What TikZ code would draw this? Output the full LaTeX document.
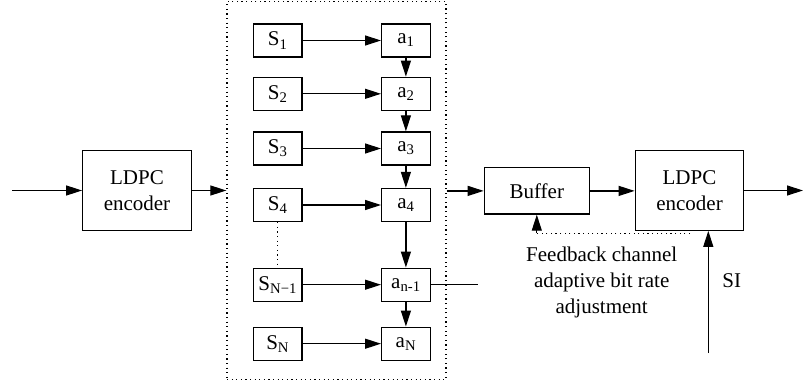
\documentclass[tikz,border=0pt]{standalone}
\usepackage{fontspec}
\setmainfont{Liberation Serif}
\newfontfamily\labelfont{Liberation Serif}
\usetikzlibrary{arrows.meta}
\begin{document}
\begin{tikzpicture}[x=1pt,y=-1pt,
  font=\labelfont\fontsize{21}{26}\selectfont,
  box/.style={draw, line width=1.3pt, inner sep=0pt, align=center},
  small/.style={box, minimum width=48.5pt, minimum height=33pt},
  big/.style={box, minimum width=108.5pt, minimum height=79.5pt},
  arr/.style={line width=1.2pt, -{Triangle[length=16pt,width=10pt]}},
  ln/.style={line width=1.2pt},
  dots/.style={line width=1.3pt, dash pattern=on 1.2pt off 3.4pt}]
\fill[white] (0,0) rectangle (803,385);
\useasboundingbox (0,0) rectangle (803,385);

% first encoder
\node[big] (enc1) at (137,190.5) {LDPC\\encoder};
\coordinate (in) at (12,190.5);

% dotted group of sources and accumulators
\node[draw, dots, minimum width=219pt, minimum height=378pt, inner sep=0pt] (grp) at (336.5,190.5) {};

\node[small] (s1)  at (277.7,40.5)  {S\textsubscript{1}};
\node[small] (s2)  at (277.7,93.8)  {S\textsubscript{2}};
\node[small] (s3)  at (277.7,148.5) {S\textsubscript{3}};
\node[small] (s4)  at (277.7,205)   {S\textsubscript{4}};
\node[small] (sn1) at (277.7,284.7) {S\textsubscript{N−1}};
\node[small] (sn)  at (277.7,343.7) {S\textsubscript{N}};

\node[small] (a1)  at (405.9,40.5)  {a\textsubscript{1}};
\node[small] (a2)  at (405.9,93.8)  {a\textsubscript{2}};
\node[small] (a3)  at (405.9,148.5) {a\textsubscript{3}};
\node[small] (a4)  at (405.9,205)   {a\textsubscript{4}};
\node[small] (an1) at (405.9,284.7) {a\textsubscript{n-1}};
\node[small] (an)  at (405.9,343.7) {a\textsubscript{N}};

% buffer and second encoder
\node[box, minimum width=105pt, minimum height=46.3pt] (buf) at (536.8,190.9) {Buffer};
\node[big] (enc2) at (689.5,190.5) {LDPC\\encoder};
\coordinate (out) at (803,190.5);

% main chain
\draw[arr] (in) -- (enc1.west);
\draw[arr] (enc1.east) -- (grp.west);
\draw[arr] (grp.east |- buf.west) -- (buf.west);
\draw[arr] (buf.east) -- (enc2.west |- buf.east);
\draw[arr] (enc2.east) -- (out);

% sources to accumulators
\foreach \s/\a in {s1/a1,s2/a2,s3/a3,s4/a4,sn1/an1,sn/an}
  \draw[arr] (\s.east) -- (\a.west);
\foreach \u/\v in {a1/a2,a2/a3,a3/a4,a4/an1,an1/an}
  \draw[arr] (\u.south) -- (\v.north);
\draw[dots] (s4.south) -- (sn1.north);
\coordinate (tap) at (478,284.7);
\draw[ln] (an1.east) -- (tap);

% feedback channel
\coordinate (fbR) at (690,233.3);
\coordinate (fbL) at (536.8,233.3);
\draw[dots] (fbR) -- (fbL);
\draw[arr] (fbL) -- (buf.south);
\node[align=center] (fbtxt) at (601.7,282.5) {Feedback channel\\adaptive bit rate\\adjustment};

% side information
\coordinate (si) at (708.3,353);
\draw[arr] (si) -- (si |- enc2.south);
\node (silbl) at (731.7,281) {SI};
\end{tikzpicture}
\end{document}
